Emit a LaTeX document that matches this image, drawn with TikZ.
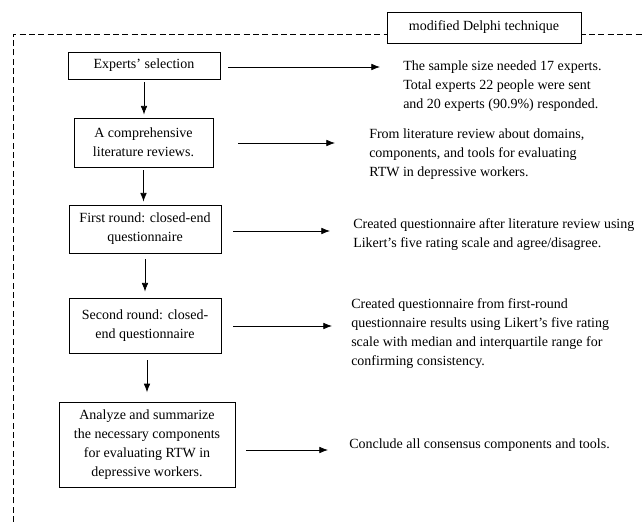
\documentclass[tikz,border=0pt]{standalone}
\usepackage{fontspec}
\setmainfont{Liberation Serif}
\usetikzlibrary{arrows.meta}

\begin{document}
\begin{tikzpicture}[x=0.75pt, y=-0.75pt,
		font=\fontsize{10.5}{14.25}\selectfont,
		box/.style={draw, line width=0.6pt, align=center, inner sep=0pt},
		note/.style={anchor=west, align=left, inner sep=0pt},
		arr/.style={-{Latex[length=6.5pt, width=5pt]}, line width=0.6pt}]
		\useasboundingbox (0, 0) rectangle (644, 522);
		\draw[dash pattern=on 4.5pt off 2.5pt, line width=0.7pt] (13, 522) -- (13, 34) -- (644, 34);
		\node[box, fill=white, minimum width=145.5pt, minimum height=23.25pt] (delphi) at (484, 27.5) {modified Delphi technique};

		\node[box, minimum width=114pt, minimum height=20.25pt] (sel) at (144, 65.5) {Experts' selection};
		\node[box, minimum width=104.25pt, minimum height=36.75pt] (rev) at (143.5, 142.5) {A comprehensive\\literature reviews.};
		\node[box, minimum width=114pt, minimum height=36pt] (first) at (145, 229) {First round: closed-end\\questionnaire};
		\node[box, minimum width=114pt, minimum height=41.25pt] (second) at (145, 325.5) {Second round: closed-\\end questionnaire};
		\node[box, minimum width=132pt, minimum height=63.75pt] (anal) at (147, 444.5) {Analyze and summarize\\the necessary components\\for evaluating RTW in\\depressive workers.};

		\draw[arr, shorten <=2.25pt, shorten >=2.25pt] (sel.south) -- (sel.south |- rev.north);
		\draw[arr, shorten <=2.25pt, shorten >=2.25pt] (rev.south) -- (rev.south |- first.north);
		\draw[arr, shorten <=4.5pt, shorten >=4.5pt] (first.south) -- (first.south |- second.north);
		\draw[arr, shorten <=5pt, shorten >=7pt] (second.south) ++(2, 0) -- (anal.north);

		\coordinate (e1) at (380, 67);
		\coordinate (e2) at (335, 143);
		\coordinate (e3) at (330, 231);
		\coordinate (e4) at (332, 326);
		\coordinate (e5) at (328, 450);
		\draw[arr, shorten <=6pt] (sel.east |- e1) -- (e1);
		\draw[arr, shorten <=18.75pt] (rev.east |- e2) -- (e2);
		\draw[arr, shorten <=9pt] (first.east |- e3) -- (e3);
		\draw[arr, shorten <=9pt] (second.east |- e4) -- (e4);
		\draw[arr, shorten <=8.25pt] (anal.east |- e5) -- (e5);

		\node[note] (n1) at (403, 86) {The sample size needed 17 experts.\\Total experts 22 people were sent\\and 20 experts (90.9\%) responded.};
		\node[note] (n2) at (369, 154) {From literature review about domains,\\components, and tools for evaluating\\RTW in depressive workers.};
		\node[note] (n3) at (353, 234.5) {Created questionnaire after literature review using\\Likert's five rating scale and agree/disagree.};
		\node[note] (n4) at (351, 333.5) {Created questionnaire from first-round\\questionnaire results using Likert's five rating\\scale with median and interquartile range for\\confirming consistency.};
		\node[note] (n5) at (349, 445) {Conclude all consensus components and tools.};
	\end{tikzpicture}
\end{document}
